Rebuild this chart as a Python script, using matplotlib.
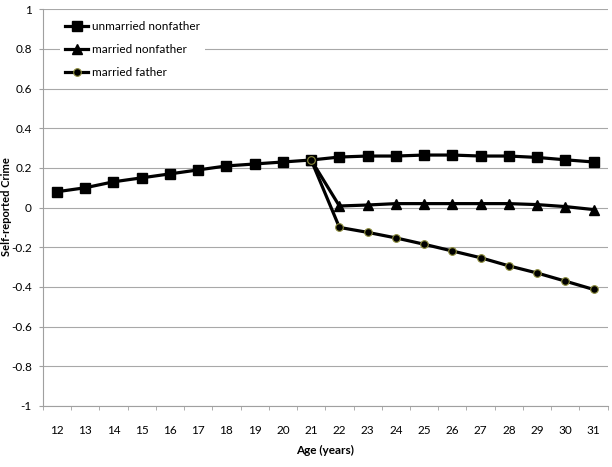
import matplotlib
matplotlib.use("Agg")
import matplotlib.pyplot as plt
import numpy as np

plt.rcParams['font.family'] = ['Lato', 'DejaVu Sans']

# ages on the category axis
ages = list(range(12, 32))

unmarried_nonfather = [0.08, 0.10, 0.13, 0.15, 0.17, 0.19, 0.21, 0.22, 0.23, 0.24,
                       0.255, 0.26, 0.26, 0.265, 0.265, 0.26, 0.26, 0.253, 0.241, 0.23]
# married series start at age 21
married_ages = list(range(21, 32))
married_nonfather = [0.24, 0.008, 0.013, 0.02, 0.02, 0.02, 0.02, 0.02, 0.015, 0.005, -0.01]
married_father = [0.24, -0.10, -0.125, -0.153, -0.185, -0.219, -0.253, -0.294, -0.33, -0.371, -0.413]

yticks = [-1, -0.8, -0.6, -0.4, -0.2, 0, 0.2, 0.4, 0.6, 0.8, 1]
ytick_labels = ['-1', '-0.8', '-0.6', '-0.4', '-0.2', '0', '0.2', '0.4', '0.6', '0.8', '1']

fig = plt.figure(figsize=(6.12, 4.67), dpi=100)
ax = fig.add_axes([0.070, 0.131, 0.923, 0.849])

x_all = np.arange(len(ages))
x_mar = np.array([ages.index(a) for a in married_ages])

ax.plot(x_all, unmarried_nonfather, color='black', lw=2.3, marker='s', ms=7,
        label='unmarried nonfather', zorder=3)
ax.plot(x_mar, married_nonfather, color='black', lw=2.3, marker='^', ms=7,
        label='married nonfather', zorder=3)
ax.plot(x_mar, married_father, color='black', lw=2.3, marker='o', ms=5.5,
        mfc='black', mec='#8c8c3c', mew=0.8, label='married father', zorder=4)

ax.set_xlim(-0.5, len(ages) - 0.5)
ax.set_ylim(-1, 1)
ax.set_yticks(yticks)
ax.set_yticklabels(ytick_labels, fontsize=8.5)
ax.set_xticks(x_all)
ax.set_xticklabels([str(a) for a in ages], fontsize=8.5)
ax.set_xticks(np.arange(-0.5, len(ages)), minor=True)
ax.tick_params(axis='x', which='major', length=0, pad=14)
ax.tick_params(axis='x', which='minor', length=3, color='#a0a0a0', direction='out')
ax.tick_params(axis='y', length=3, color='#a0a0a0', direction='out', pad=5)

ax.grid(axis='y', color='#a8a8a8', lw=0.8)
ax.set_axisbelow(True)
for s in ['top', 'right']:
    ax.spines[s].set_visible(False)
for s in ['left', 'bottom']:
    ax.spines[s].set_color('#a0a0a0')
    ax.spines[s].set_linewidth(0.8)

ax.set_xlabel('Age (years)', fontsize=8.5, fontweight='bold', labelpad=6)
# y label placed in figure coords so it is not cut at the left edge
fig.text(0.011, 0.557, 'Self-reported Crime', rotation=90, ha='center', va='center',
         fontsize=8, fontweight='bold')

leg = ax.legend(loc='upper left', bbox_to_anchor=(0.02, 0.997), fontsize=8.5,
                frameon=True, facecolor='white', edgecolor='none', framealpha=1,
                handlelength=2.0, handletextpad=0.3, labelspacing=1.0,
                borderpad=0.4, fancybox=False)

fig.savefig('out.png', dpi=100)
